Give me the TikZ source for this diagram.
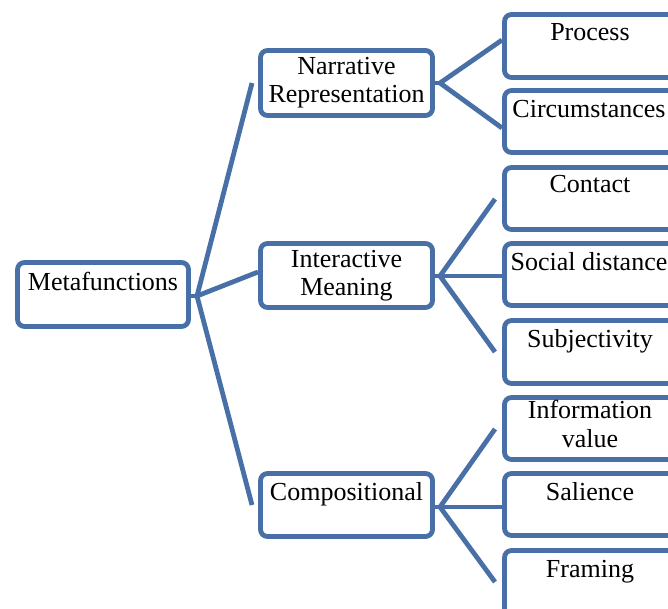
\documentclass[tikz,border=0pt]{standalone}
\usepackage{fontspec}
\setmainfont{Liberation Serif}
\definecolor{boxblue}{RGB}{72,112,166}
\tikzset{
  box/.style={draw=boxblue, line width=4.8pt, rounded corners=7pt, fill=white},
  link/.style={draw=boxblue, line width=4.8pt},
  txt/.style={anchor=base, inner sep=0pt, font=\fontsize{26}{28}\selectfont, align=center}
}
\begin{document}
\begin{tikzpicture}[x=1pt,y=-1pt]
\useasboundingbox (0,0) rectangle (668,609);
\clip (0,0) rectangle (668,609);
\fill[white] (0,0) rectangle (668,609);

% junctions and free ends
\coordinate (j0) at (197,296);
\coordinate (e0a) at (252,83);
\coordinate (e0c) at (252,505);
\coordinate (jn) at (440,83);
\coordinate (ji) at (440,276);
\coordinate (ei1) at (495,199);
\coordinate (ei3) at (495,352);
\coordinate (jc) at (440,507);
\coordinate (ec1) at (495,429);
\coordinate (ec3) at (495,582);

% boxes
\draw[box] (17.5,262.5) rectangle (188.5,326.5) coordinate[pos=0.5] (meta);
\draw[box] (260.5,50.5) rectangle (432.5,115.5);
\draw[box] (260.5,243.5) rectangle (432.5,307.5);
\draw[box] (260.5,473.5) rectangle (432.5,536.5);

\draw[box] (504.5,14.5) rectangle (680,77.5);
\draw[box] (504.5,90.5) rectangle (680,152.5);
\draw[box] (504.5,167.5) rectangle (680,229.5);
\draw[box] (504.5,243.5) rectangle (680,305.5);
\draw[box] (504.5,320.5) rectangle (680,383.5);
\draw[box] (504.5,397.5) rectangle (680,459.5);
\draw[box] (504.5,473.5) rectangle (680,535.5);
\draw[box] (504.5,550.5) rectangle (680,620);

% named anchor coordinates on box edges
\coordinate (narrL) at (258,83);
\coordinate (interL) at (258,272);
\coordinate (narrR) at (435,83);
\coordinate (interR) at (435,276);
\coordinate (compR) at (435,507);
\coordinate (procL) at (502,40);
\coordinate (circL) at (502,128);
\coordinate (socL) at (502,276);
\coordinate (salL) at (502,507);

% connectors
\draw[link] (e0a) -- (j0) -- (e0c);
\draw[link] (j0) -- (interL);
\draw[link] (procL) -- (jn) -- (circL);
\draw[link] (ei1) -- (ji) -- (ei3);
\draw[link] (ji) -- (socL);
\draw[link] (ec1) -- (jc) -- (ec3);
\draw[link] (jc) -- (salL);
\draw[link] (narrR) -- (jn);
\draw[link] (interR) -- (ji);
\draw[link] (compR) -- (jc);
\draw[link] (j0) -- (190,296);

% texts
\node[txt] (tmeta) at (103,290) {Metafunctions};
\node[txt] (tnarr1) at (346.5,75) {Narrative};
\node[txt] (tnarr2) at (346.5,103) {Representation};
\node[txt] (tint1) at (346.5,267) {Interactive};
\node[txt] (tint2) at (346.5,295) {Meaning};
\node[txt] (tcomp) at (346.5,500) {Compositional};
\node[txt] (tproc) at (590,41) {Process};
\node[txt] (tcirc) at (589,118) {Circumstances};
\node[txt] (tcont) at (590,193) {Contact};
\node[txt] (tsoc) at (589,270) {Social distance};
\node[txt] (tsubj) at (590,347) {Subjectivity};
\node[txt] (tinfo1) at (590,418) {Information};
\node[txt] (tinfo2) at (590,447) {value};
\node[txt] (tsal) at (590,500) {Salience};
\node[txt] (tfram) at (590,577) {Framing};
\end{tikzpicture}
\end{document}
